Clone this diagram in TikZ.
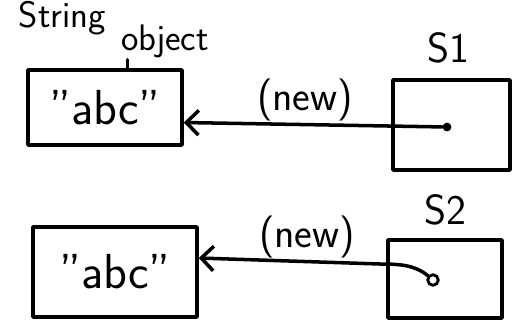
\documentclass[tikz,border=0pt]{standalone}
\usetikzlibrary{arrows.meta, positioning}

\tikzset{
    pen/.style={line width=2pt, line cap=round, line join=round},
    objbox/.style={draw, pen, inner sep=0pt},
    refline/.style={pen, -{Straight Barb[length=7pt, width=14pt, line width=2pt]}},
    hand/.style={font=\sffamily\fontsize{24}{28}\selectfont, inner sep=1pt},
    tag/.style={font=\sffamily\fontsize{21}{24}\selectfont, inner sep=1pt},
    big/.style={font=\sffamily\fontsize{28}{32}\selectfont, inner sep=0pt}
}

\begin{document}
\begin{tikzpicture}
        \useasboundingbox (0,0) rectangle (10.26,-6.54);

        % String objects on the heap
        \node[objbox, big, minimum width=3.08cm, minimum height=1.5cm] (str1) at (2.10,-2.15) {"abc"};
        \node[objbox, big, minimum width=3.28cm, minimum height=1.8cm] (str2) at (2.30,-5.44) {"abc"};

        % Label for the first object
        \node[tag] (strlbl) at (1.25,-0.36) {String};
        \node[tag] (objlbl) at (3.30,-0.82) {object};
        \draw[pen] ([xshift=0.45cm]str1.north) -- ([xshift=0.45cm]str1.north |- objlbl.south);

        % Reference variables
        \node[objbox, minimum width=2.34cm, minimum height=1.8cm] (s1) at (9.03,-2.50) {};
        \node[objbox, minimum width=2.28cm, minimum height=1.56cm] (s2) at (8.90,-5.58) {};
        \node[hand] (s1lbl) at (8.96,-0.96) {S1};
        \node[hand] (s2lbl) at (8.90,-4.20) {S2};

        % Pointers held by the variables
        \node[circle, fill, inner sep=0pt, minimum size=5pt] (dot1) at (8.94,-2.54) {};
        \node[circle, draw, line width=1.6pt, inner sep=0pt, minimum size=6pt] (dot2) at (8.66,-5.60) {};

        \draw[refline] (dot1) -- ([yshift=-0.30cm]str1.east);
        \draw[refline] (dot2) .. controls (8.30,-5.30) and (8.00,-5.28) .. (7.60,-5.28) -- ([yshift=0.28cm]str2.east);

        % Labels on the pointers
        \node[hand] (new1) at (6.10,-2.00) {(new)};
        \node[hand] (new2) at (6.14,-4.74) {(new)};
    \end{tikzpicture}
\end{document}
